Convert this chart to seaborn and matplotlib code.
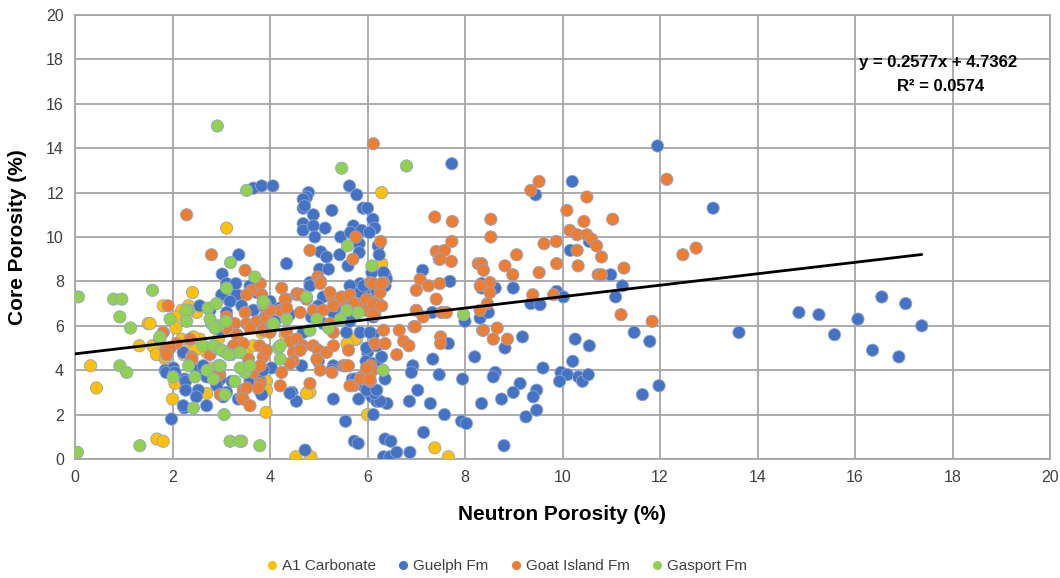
import matplotlib
matplotlib.use("Agg")
import matplotlib.pyplot as plt
import seaborn as sns
import pandas as pd
import numpy as np
from matplotlib.lines import Line2D

# ---------------- data ----------------
series_names = ["A1 Carbonate", "Guelph Fm", "Goat Island Fm", "Gasport Fm"]
series_colors = ["#FFC000", "#4472C4", "#ED7D31", "#92D050"]

a1_x = [0.32, 0.44, 1.32, 1.50, 1.68, 1.81, 2.0, 2.41, 3.11, 3.92, 3.42, 6.29, 6.29, 6.0, 4.53, 4.84,
        7.38, 7.66, 4.77, 2.7, 3.93, 3.78, 1.81, 2.19, 2.33, 2.05, 2.5, 1.54, 1.64, 1.85, 2.36, 2.56,
        2.46, 2.70, 2.94, 3.52, 3.66, 3.83, 2.77, 3.73, 3.93, 2.07, 2.19, 2.43, 1.59, 1.67, 1.86, 2.05,
        2.23, 3.14, 4.31, 5.64, 5.78, 4.82, 5.54, 5.74, 5.58, 4.75]
a1_y = [4.2, 3.2, 5.1, 6.1, 0.9, 0.8, 2.7, 7.5, 10.4, 2.1, 0.8, 12.0, 8.8, 2.0, 0.1, 0.1,
        0.5, 0.1, 3.0, 2.95, 3.5, 3.1, 6.9, 6.7, 6.9, 6.4, 6.6, 6.1, 5.0, 4.5, 5.2, 5.4,
        4.9, 4.8, 5.4, 4.8, 5.1, 5.7, 4.1, 3.3, 3.1, 5.9, 5.4, 5.5, 5.1, 4.7, 4.6, 3.4,
        4.7, 7.2, 5.6, 5.3, 5.4, 3.0, 4.2, 5.4, 5.2, 2.95]

guelph_x = [3.66, 3.83, 4.06, 3.36, 3.02, 1.98, 2.24, 5.63, 5.78, 4.79, 4.75, 4.68, 4.68, 4.71, 4.89,
            5.27, 5.91, 6.0, 6.11, 6.15, 4.68, 4.68, 4.89, 5.13, 5.71, 5.88, 6.04, 6.22, 4.92, 5.45,
            5.65, 5.83, 5.83, 5.04, 5.16, 5.43, 5.6, 4.34, 6.09, 6.36, 6.39, 6.24, 5.02, 5.2, 4.82,
            5.7, 5.85, 5.95, 6.1, 7.73, 7.34, 6.93, 6.9, 7.66, 7.47, 7.95, 7.69, 7.13, 7.33,
            6.0, 5.97, 6.1, 5.69, 5.79, 6.2, 6.36, 5.3, 5.5, 4.99, 4.45, 4.54, 5.3, 5.82, 6.02, 6.09,
            6.19, 6.4, 6.86, 7.03, 7.29, 7.58, 7.93, 8.03, 5.55, 6.12, 7.15, 5.73, 5.81, 6.36, 6.48,
            6.33, 6.46, 6.6, 6.87, 4.72, 4.41, 6.26,
            11.95, 10.2, 9.45, 10.55, 10.16, 10.99, 11.23, 11.09, 11.47, 11.79, 11.98, 11.64, 8.34,
            8.34, 8.62, 8.99, 8.31, 8.48, 8.0, 9.88, 10.02, 9.35, 9.54, 8.82, 9.18, 10.26, 10.55,
            10.21, 8.2, 9.6, 8.62, 8.58, 9.97, 10.1, 9.94, 10.33, 10.41, 10.53, 9.13, 8.99, 8.75,
            9.47, 9.4, 8.34, 9.25, 9.47, 8.8,
            13.09, 13.62, 14.85, 15.26, 15.58, 16.06, 16.55, 17.04, 17.37, 16.36, 16.9,
            6.33, 6.36, 6.19, 6.12, 6.29, 6.15,
            3.01, 3.32, 3.59, 3.73, 2.56, 2.77, 3.18, 3.11, 3.42, 3.66, 3.9, 2.98, 2.22, 1.85, 2.02,
            2.25, 2.49, 2.63, 2.70, 2.98, 3.22, 3.59, 2.53, 2.91, 3.11, 2.22, 2.70, 3.35, 3.8, 3.83,
            3.11, 3.30, 1.87, 2.05, 2.27, 2.27, 2.49, 3.04,
            4.55, 4.82, 5.09, 4.99, 5.33, 5.3, 5.85, 5.98, 6.12, 5.64, 5.92, 6.19, 4.0, 5.57, 5.85,
            6.05, 5.09, 4.68, 4.65, 4.03, 3.86, 5.27, 5.75, 5.92, 5.98, 6.19, 5.98, 6.19, 4.85, 5.64,
            4.2, 4.4, 4.1, 5.4]
guelph_y = [12.2, 12.3, 12.3, 9.2, 8.33, 1.8, 2.3, 12.3, 11.9, 12.0, 11.8, 11.7, 11.3, 11.4, 11.0,
            11.2, 11.3, 11.3, 10.8, 10.4, 10.6, 10.3, 10.5, 10.4, 10.5, 10.3, 10.2, 9.6, 10.0, 10.0,
            10.2, 9.7, 9.3, 9.33, 9.1, 9.2, 8.7, 8.8, 8.4, 8.3, 8.1, 9.2, 8.55, 8.55, 7.95,
            7.7, 7.9, 7.6, 7.8, 13.3, 4.5, 4.2, 3.9, 5.2, 3.8, 3.6, 8.0, 8.5, 6.6,
            4.8, 4.4, 4.3, 3.6, 3.5, 4.2, 3.6, 4.2, 4.2, 4.4, 3.0, 2.6, 2.7, 2.7, 3.0, 2.8,
            2.6, 2.5, 2.6, 3.1, 2.5, 2.0, 1.7, 1.6, 1.7, 2.0, 1.2, 0.8, 0.7, 0.9, 0.8,
            0.1, 0.1, 0.3, 0.3, 0.4, 2.96, 2.6,
            14.1, 12.5, 11.9, 9.8, 9.4, 8.3, 7.8, 7.3, 5.7, 5.3, 3.3, 2.9, 7.9,
            7.7, 7.7, 7.7, 6.35, 6.6, 6.2, 7.55, 7.3, 7.0, 6.95, 5.0, 5.5, 5.4, 5.1,
            4.4, 4.6, 4.1, 3.9, 3.7, 3.9, 3.8, 3.5, 3.7, 3.5, 3.8, 3.4, 3.0, 2.7,
            3.1, 2.8, 2.5, 1.9, 2.2, 0.6,
            11.3, 5.7, 6.6, 6.5, 5.6, 6.3, 7.3, 7.0, 6.0, 4.9, 4.6,
            8.4, 7.8, 7.5, 5.6, 4.6, 2.96,
            7.4, 7.4, 7.8, 7.5, 6.9, 6.7, 7.1, 6.6, 6.9, 6.7, 6.4, 5.8, 4.8, 4.0, 4.1,
            3.6, 4.0, 4.2, 3.7, 3.6, 3.5, 3.5, 3.1, 3.3, 3.0, 2.4, 2.4, 2.7, 3.5, 2.9,
            7.9, 7.9, 3.9, 3.9, 3.5, 3.1, 2.8, 2.8,
            7.4, 7.8, 7.3, 6.9, 7.2, 6.6, 7.5, 6.7, 6.4, 7.8, 7.8, 7.6, 7.1, 5.7, 5.7,
            5.7, 6.1, 5.7, 4.2, 4.1, 4.0, 4.0, 3.6, 3.3, 3.1, 3.1, 5.0, 5.1, 6.4, 6.2,
            6.8, 6.5, 6.2, 6.9]

goat_x = [2.29, 2.80, 3.49, 6.12, 5.76, 6.27, 4.82, 5.70, 4.98, 5.04, 4.24, 4.33, 4.55, 4.65, 4.75,
          5.27, 5.5, 5.61, 5.78, 6.09, 6.2, 6.06, 6.33, 6.26,
          6.65, 6.95, 6.6, 6.74, 6.85, 7.5, 7.5, 7.38, 7.74, 7.73, 7.41, 7.47, 7.58, 7.72, 7.08,
          7.25, 7.0, 7.48, 7.41, 7.0, 7.14, 7.52, 7.62, 8.27,
          6.07, 6.1, 5.88, 5.71, 6.06, 5.03, 5.27, 5.53, 4.21, 4.82,
          12.14, 9.52, 9.35, 10.5, 10.09, 8.53, 8.53, 10.44, 11.03, 10.15, 10.3, 10.5, 10.6, 10.7,
          10.3, 9.62, 9.87, 9.06, 10.8, 8.34, 8.82, 8.98, 9.52, 9.88, 10.32, 10.73, 10.8, 11.26,
          11.2, 11.84, 8.51, 8.51, 8.46, 8.31, 9.39, 9.82, 8.36, 8.66, 8.58, 8.87,
          12.47, 12.74,
          1.91, 1.81, 1.86, 2.39, 2.97, 3.42, 3.45, 3.8, 3.49, 3.62, 3.8, 3.9,
          3.52, 3.83, 3.11, 3.28, 3.52, 3.73, 3.9, 3.32, 3.59, 3.9, 3.11, 1.74, 2.08, 2.36, 1.95,
          1.88, 2.40, 2.77, 3.56, 3.86, 3.45, 3.25, 3.66, 3.8, 2.94, 2.98, 3.52, 3.76, 3.45, 3.59,
          4.62, 5.03, 5.23, 5.47, 5.64, 5.71, 5.98, 4.31, 3.86, 3.93, 3.86, 4.0, 3.79, 3.93, 4.34,
          4.41, 4.55, 4.68, 4.48, 4.62, 4.89, 4.99, 4.96, 5.16, 5.3, 5.3, 5.23, 5.61, 4.48, 4.24,
          4.41, 5.61, 5.85, 6.05, 5.98, 5.64,
          4.21, 4.0, 4.34, 4.62, 4.89, 5.09, 5.3, 5.6, 5.98, 6.2, 6.15,
          6.12, 6.29, 6.12, 6.29, 6.12, 6.33, 6.15, 6.36, 6.98, 8.38, 8.31, 8.38, 7.49]
goat_y = [11.0, 9.2, 8.5, 14.2, 10.0, 9.8, 9.4, 9.0, 8.2, 8.0, 7.7, 7.2, 7.45, 7.4, 7.2,
          7.3, 7.1, 7.0, 7.0, 7.0, 7.1, 7.95, 7.95, 7.5,
          5.8, 5.96, 4.7, 5.3, 5.1, 5.5, 5.2, 10.9, 10.7, 9.8, 9.35, 9.0, 9.4, 8.9, 8.1,
          7.8, 7.6, 7.9, 7.2, 6.7, 6.4, 6.6, 6.6, 8.8,
          4.2, 3.99, 3.7, 3.3, 3.5, 4.0, 3.9, 4.2, 3.3, 3.4,
          12.6, 12.5, 12.1, 11.8, 11.2, 10.8, 10.0, 10.7, 10.8, 10.3, 10.1, 10.1, 9.9, 9.6,
          9.4, 9.7, 9.8, 9.2, 9.1, 8.8, 8.7, 8.3, 8.4, 8.8, 8.7, 8.3, 8.3, 8.6,
          6.5, 6.2, 7.95, 7.5, 7.0, 6.7, 7.4, 7.4, 5.8, 5.9, 5.4, 5.4,
          9.2, 9.5,
          6.9, 5.7, 4.9, 4.6, 3.8, 2.8, 3.1, 3.4, 6.6, 7.6, 7.9, 7.0,
          7.4, 7.4, 6.4, 6.1, 6.1, 6.2, 6.2, 5.6, 5.9, 5.8, 5.9, 5.4, 5.2, 5.4, 5.0,
          4.7, 4.5, 4.7, 4.5, 4.6, 5.2, 5.1, 3.9, 4.2, 4.0, 2.9, 3.2, 3.2, 2.7, 2.4,
          7.4, 7.9, 7.5, 7.3, 7.4, 7.0, 7.2, 7.2, 6.9, 6.4, 5.8, 5.7, 5.1, 4.9, 5.7,
          5.3, 5.4, 5.1, 4.8, 4.9, 5.1, 4.9, 4.5, 4.8, 5.1, 5.7, 6.1, 4.9, 4.4, 3.9,
          4.3, 4.2, 3.6, 3.6, 4.1, 3.3,
          6.7, 6.7, 6.8, 6.6, 6.7, 6.7, 6.9, 6.7, 6.7, 6.9, 6.5,
          7.9, 7.9, 7.0, 6.9, 6.5, 5.8, 5.2, 5.2, 5.96, 5.8, 7.8, 8.5, 9.0]

gasport_x = [2.92, 3.52, 3.19, 3.69, 0.07, 0.79, 0.96, 1.59, 0.92, 1.14, 0.92, 1.06, 1.33, 0.05,
             3.18, 3.38, 3.79, 3.06, 2.43, 5.47, 6.80, 5.59, 6.09, 7.97, 6.32,
             2.33, 1.95, 2.73, 2.90, 3.86, 2.8, 2.95, 3.1, 2.63, 2.9, 3.05, 3.2, 3.38, 2.33, 2.46,
             2.01, 2.71, 2.94, 3.28, 3.49, 1.74, 4.07, 4.17,
             3.11, 2.29, 2.29, 2.77, 2.87, 2.84, 3.01, 3.15, 2.98, 3.39, 3.59, 2.84, 3.08,
             4.75, 3.86, 5.57, 5.81, 4.96, 4.34, 4.07, 4.82, 5.2, 5.44, 4.21, 4.21]
gasport_y = [15.0, 12.1, 8.85, 8.2, 7.3, 7.2, 7.2, 7.6, 6.4, 5.9, 4.2, 3.9, 0.6, 0.3,
             0.8, 0.8, 0.6, 2.0, 2.3, 13.1, 13.2, 9.6, 8.7, 6.5, 4.0,
             6.7, 6.3, 6.8, 7.0, 7.0, 6.1, 6.0, 6.2, 5.1, 5.0, 4.85, 4.7, 4.8, 4.2, 3.7,
             3.7, 4.0, 4.2, 3.5, 3.9, 5.5, 6.0, 5.0,
             7.7, 6.7, 6.2, 6.3, 5.9, 5.1, 4.9, 4.7, 4.2, 4.1, 4.2, 3.6, 2.9,
             7.3, 7.1, 6.7, 6.6, 6.3, 6.3, 6.1, 5.8, 5.9, 6.3, 5.1, 4.5]

trend_slope = 0.2577
trend_intercept = 4.7362
trend_label = "y = 0.2577x + 4.7362"
r2_label = "R² = 0.0574"
x_ticks = [0, 2, 4, 6, 8, 10, 12, 14, 16, 18, 20]
y_ticks = [0, 2, 4, 6, 8, 10, 12, 14, 16, 18, 20]
x_label = "Neutron Porosity (%)"
y_label = "Core Porosity (%)"

# ---------------- build table ----------------
frames = []
for name, xs, ys in zip(series_names,
                        [a1_x, guelph_x, goat_x, gasport_x],
                        [a1_y, guelph_y, goat_y, gasport_y]):
    frames.append(pd.DataFrame({"x": xs, "y": ys, "series": name}))
df = pd.concat(frames, ignore_index=True)

# ---------------- plot ----------------
sns.set_theme(style="white")
plt.rcParams["font.family"] = ["Liberation Sans Narrow", "Liberation Sans", "DejaVu Sans"]

fig = plt.figure(figsize=(10.6, 5.78), dpi=100)
ax = fig.add_axes([75 / 1060, 1 - 459 / 578, 975 / 1060, 444 / 578])

grid_c = "#A6A6A6"
for t in x_ticks:
    ax.axvline(t, color=grid_c, lw=1.3, zorder=0)
for t in y_ticks:
    ax.axhline(t, color=grid_c, lw=1.3, zorder=0)

sns.scatterplot(data=df, x="x", y="y", hue="series", hue_order=series_names,
                palette=series_colors, s=78, edgecolor="#8FA6CF", linewidth=0.6,
                legend=False, ax=ax, zorder=3)

x_max = max(max(a1_x), max(guelph_x), max(goat_x), max(gasport_x))
xl = np.array([0, x_max])
ax.plot(xl, trend_slope * xl + trend_intercept, color="black", lw=2, zorder=4)

ax.text(17.7, 17.85, trend_label, ha="center", va="center", fontsize=12,
        fontweight="bold", color="black", zorder=5)
ax.text(17.75, 16.77, r2_label, ha="center", va="center", fontsize=12,
        fontweight="bold", color="black", zorder=5)

ax.set_xlim(0, 20)
ax.set_ylim(0, 20)
ax.set_xticks(x_ticks)
ax.set_yticks(y_ticks)
ax.tick_params(axis="both", length=0, labelsize=11.5, labelcolor="#404040", pad=8)
for sp in ax.spines.values():
    sp.set_color(grid_c)
    sp.set_linewidth(1.3)

ax.set_xlabel(x_label, fontsize=15, fontweight="bold", color="black", labelpad=14)
ax.set_ylabel(y_label, fontsize=15, fontweight="bold", color="black", labelpad=14)

handles = [Line2D([0], [0], marker="o", linestyle="", markersize=5.5,
                  markerfacecolor=c, markeredgecolor=c) for c in series_colors]
fig.legend(handles, series_names, loc="center", bbox_to_anchor=(507 / 1060, 1 - 566 / 578),
           ncol=4, frameon=False, fontsize=11, handlelength=0.6, handletextpad=0.35,
           columnspacing=1.5, labelcolor="#404040")

fig.savefig("out.png", dpi=100)
